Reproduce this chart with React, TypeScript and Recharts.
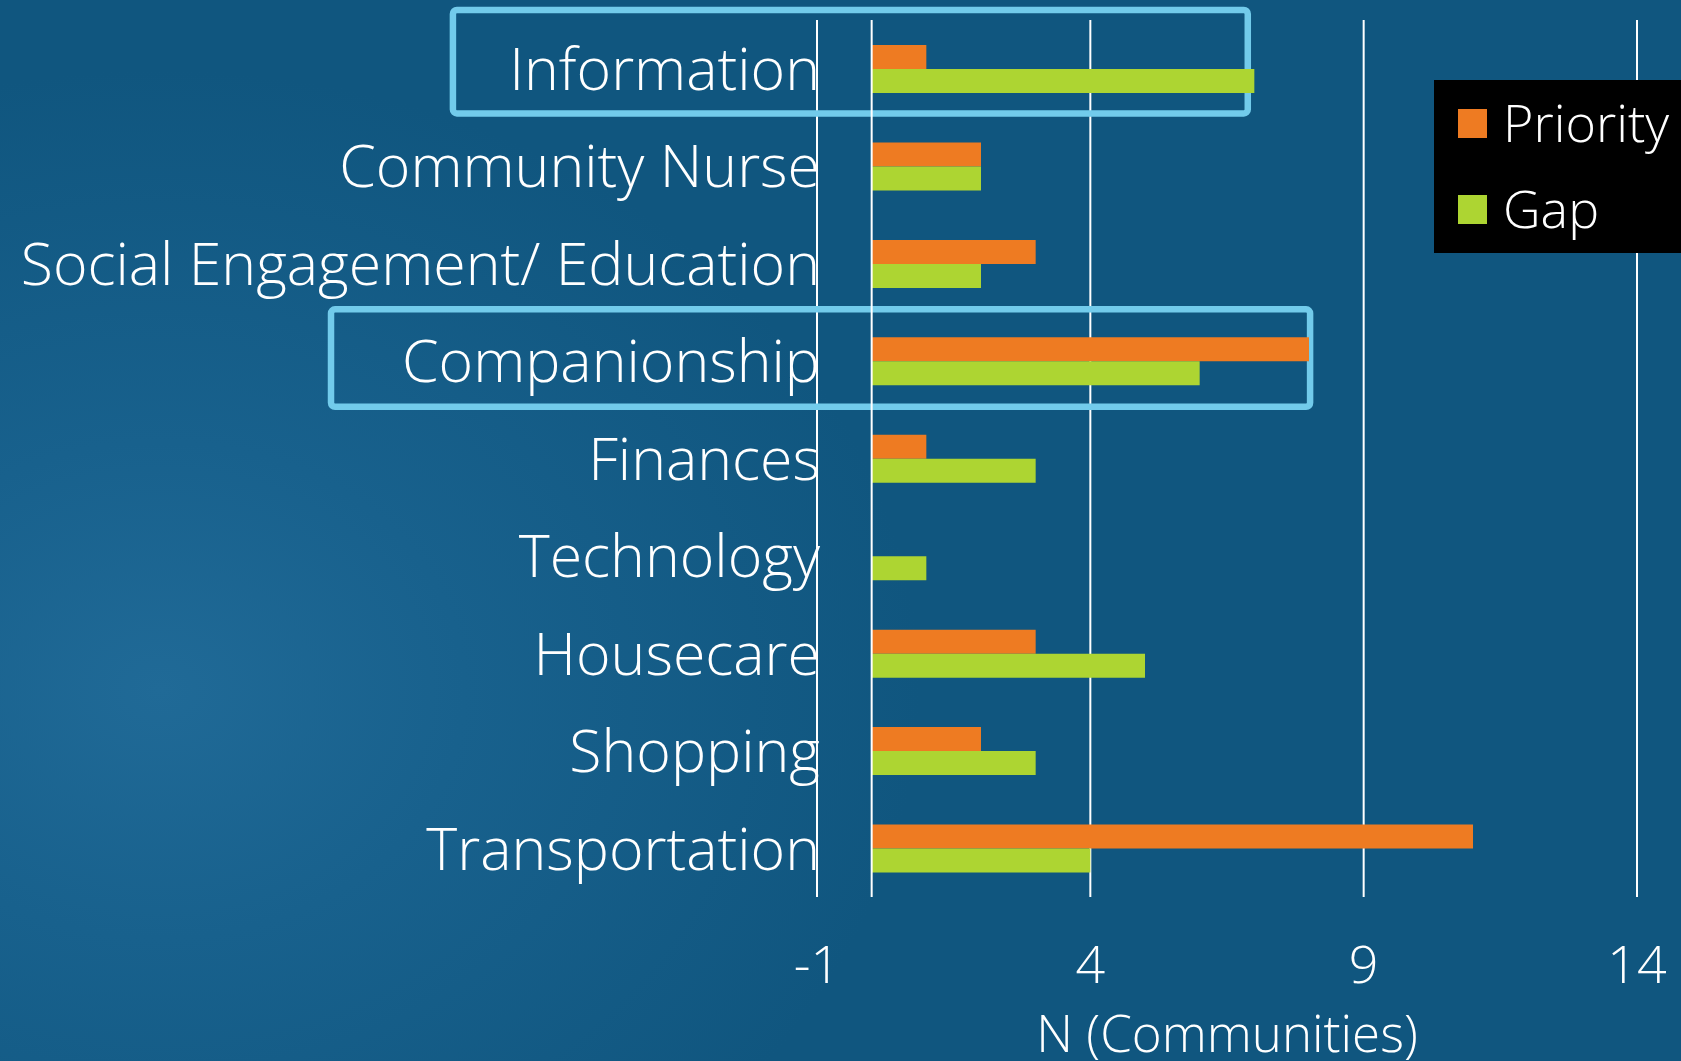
import React from 'react';
import {
  BarChart,
  Bar,
  XAxis,
  YAxis,
  CartesianGrid,
  ReferenceLine,
  ReferenceArea,
} from 'recharts';

const categories = [
  'Information',
  'Community Nurse',
  'Social Engagement/ Education',
  'Companionship',
  'Finances',
  'Technology',
  'Housecare',
  'Shopping',
  'Transportation',
];
const priority = [1, 2, 3, 8, 1, 0, 3, 2, 11];
const gap = [7, 2, 2, 6, 3, 1, 5, 3, 4];
const xTicks = [-1, 4, 9, 14];

// outlined rows: x extent in axis units (boxes reach into the label area),
// top/bottom nudge the box edges relative to the category band
const highlights = [
  { name: 'Information', from: -7.66, to: 6.88, top: -10, bottom: -4 },
  { name: 'Companionship', from: -9.89, to: 8.02, top: -3, bottom: -3 },
];

const ORANGE = '#ee7b22';
const GREEN = '#add532';
const BOX = '#72cbeb';
const FONT = '"Open Sans", sans-serif';

const data = categories.map((name, i) => ({
  name,
  Priority: priority[i],
  Gap: gap[i],
}));

const YTick = (props: any) => {
  const { x, y, payload } = props;
  return (
    <text
      x={x + 3}
      y={y}
      dy="0.36em"
      textAnchor="end"
      fill="#fff"
      fontSize={59}
      fontWeight={300}
      fontFamily={FONT}
    >
      {payload.value}
    </text>
  );
};

const XTick = (props: any) => {
  const { x, y, payload } = props;
  return (
    <text
      x={x}
      y={y + 78}
      textAnchor="middle"
      fill="#fff"
      fontSize={52}
      fontWeight={300}
      fontFamily={FONT}
    >
      {payload.value}
    </text>
  );
};

const legendItems = [
  { label: 'Priority', color: ORANGE },
  { label: 'Gap', color: GREEN },
];

const LegendBox = () => (
  <div
    style={{
      position: 'absolute',
      left: 1434,
      top: 80,
      background: '#000',
      width: 247,
      height: 173,
      fontFamily: FONT,
      fontWeight: 300,
      fontSize: 52,
      color: '#fff',
    }}
  >
    {legendItems.map((item, i) => (
      <div
        key={item.label}
        style={{
          position: 'absolute',
          left: 24,
          top: i === 0 ? 29 : 115,
          display: 'flex',
          alignItems: 'center',
          height: 29,
          whiteSpace: 'nowrap',
        }}
      >
        <span
          style={{
            display: 'inline-block',
            width: 29,
            height: 29,
            background: item.color,
            marginRight: 16,
          }}
        />
        <span style={{ lineHeight: '29px', marginTop: -4 }}>{item.label}</span>
      </div>
    ))}
  </div>
);

const boxShape = (top: number, bottom: number) => (p: any) => (
  <rect
    x={p.x}
    y={p.y + top}
    width={p.width}
    height={p.height - top + bottom}
    rx={4}
    fill="none"
    stroke={BOX}
    strokeWidth={6.5}
  />
);

export default function App() {
  return (
    <div
      style={{
        position: 'absolute',
        left: 0,
        top: 0,
        width: 1681,
        height: 1061,
        overflow: 'hidden',
        background:
          'radial-gradient(ellipse 760px 620px at 160px 690px, #206a97 0%, #18618d 40%, #10567f 100%)',
      }}
    >
      <BarChart
        layout="vertical"
        width={1681}
        height={1061}
        data={data}
        margin={{ top: 20, right: 44, bottom: 0, left: 0 }}
        barSize={24}
        barGap={0}
      >
        <CartesianGrid
          horizontal={false}
          vertical
          stroke="#ffffff"
          strokeWidth={2}
        />
        <XAxis
          type="number"
          domain={[-1, 14]}
          ticks={xTicks}
          interval={0}
          height={164}
          axisLine={false}
          tickLine={false}
          tick={<XTick />}
          label={{
            value: 'N (Communities)',
            position: 'insideBottom',
            offset: 9,
            fill: '#fff',
            fontSize: 51,
            fontWeight: 300,
            fontFamily: FONT,
          }}
        />
        <YAxis
          type="category"
          dataKey="name"
          width={817}
          axisLine={false}
          tickLine={false}
          tickSize={0}
          tickMargin={0}
          interval={0}
          tick={<YTick />}
        />
        <ReferenceLine x={0} stroke="#ffffff" strokeWidth={2} />
        <Bar dataKey="Priority" fill={ORANGE} isAnimationActive={false} />
        <Bar dataKey="Gap" fill={GREEN} isAnimationActive={false} />
        {highlights.map((h) => (
          <ReferenceArea
            key={h.name}
            y1={h.name}
            y2={h.name}
            x1={h.from}
            x2={h.to}
            ifOverflow="visible"
            shape={boxShape(h.top, h.bottom)}
          />
        ))}
      </BarChart>
      <LegendBox />
    </div>
  );
}
